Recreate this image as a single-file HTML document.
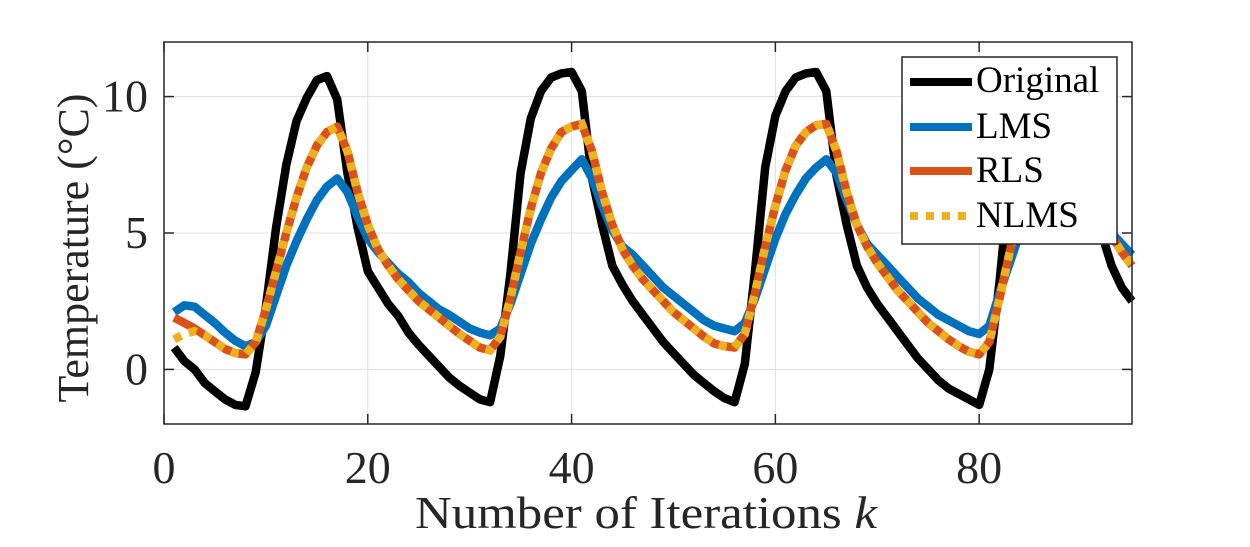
<!DOCTYPE html>
<html><head><meta charset="utf-8"><style>
html,body{margin:0;padding:0;background:#fff;}
svg{display:block;}
svg text{font-family:"Liberation Serif","DejaVu Serif","Times New Roman",serif;}
</style></head><body>
<svg id="chart" width="1250" height="547" viewBox="0 0 1250 547">
<rect x="0" y="0" width="1250" height="547" fill="#fff"/>
<g id="grid"></g>
<g id="series"></g>
<rect x="164" y="42" width="968" height="382" fill="none" stroke="#262626" stroke-width="1.5"/>
<g id="ticks"></g>
<text x="415" y="528" font-size="46" fill="#262626" textLength="462" lengthAdjust="spacingAndGlyphs">Number of Iterations <tspan font-style="italic">k</tspan></text>
<text transform="translate(88,248) rotate(-90)" font-size="44" text-anchor="middle" fill="#262626">Temperature (°C)</text>
<g>
<rect x="902" y="57" width="215" height="187" fill="#fff" stroke="#262626" stroke-width="1.5"/>
<g><line x1="910" y1="82" x2="972" y2="82" stroke="#000" stroke-width="8"/><text x="976" y="92" font-size="37" fill="#000">Original</text></g>
<g><line x1="910" y1="127" x2="972" y2="127" stroke="#0072bd" stroke-width="8"/><text x="976" y="138" font-size="37" fill="#000">LMS</text></g>
<g><line x1="910" y1="171" x2="972" y2="171" stroke="#d95319" stroke-width="8"/><text x="976" y="182" font-size="37" fill="#000">RLS</text></g>
<g><line x1="910" y1="216" x2="972" y2="216" stroke="#edb120" stroke-width="8" stroke-dasharray="8,8"/><text x="976" y="227" font-size="37" fill="#000">NLMS</text></g>
</g>
</svg>
<script>
const xTicks = [0, 20, 40, 60, 80];
const yTicks = [0, 5, 10];
const original = [0.8,0.3,0.0,-0.5,-0.8,-1.1,-1.3,-1.35,
-0.1,2.3,5.2,7.5,9.1,9.95,10.6,10.75,9.9,
7.2,5.2,3.6,3.0,2.4,1.95,1.35,0.9,0.5,0.1,-0.3,-0.6,-0.85,-1.1,-1.2,
0.5,3.5,7.2,9.2,10.2,10.7,10.85,10.9,10.2,
7.0,5.3,3.8,3.1,2.5,2.0,1.5,1.0,0.6,0.2,-0.2,-0.5,-0.8,-1.05,-1.2,
0.2,3.6,7.4,9.3,10.2,10.7,10.85,10.9,10.2,
7.1,5.3,3.8,3.0,2.4,1.9,1.4,0.9,0.4,0.0,-0.4,-0.7,-0.9,-1.1,-1.3,
0.0,3.2,7.0,9.2,10.2,10.7,10.85,10.9,10.2,
7.8,6.2,5.0,3.8,3.0,2.5];
const lms = [2.1,2.35,2.3,2.0,1.7,1.35,1.05,0.85,
1.0,1.6,2.7,3.8,4.7,5.5,6.2,6.7,7.0,
6.5,5.6,4.8,4.3,3.9,3.5,3.2,2.8,2.5,2.2,2.0,1.75,1.5,1.35,1.25,
1.5,2.4,3.5,4.6,5.5,6.3,6.9,7.3,7.7,
7.0,6.0,5.1,4.5,4.2,3.8,3.4,3.0,2.7,2.4,2.1,1.8,1.6,1.5,1.4,
1.7,2.6,3.7,4.8,5.7,6.4,7.0,7.4,7.7,
7.2,6.2,5.3,4.6,4.2,3.8,3.4,3.0,2.6,2.3,2.0,1.8,1.6,1.4,1.3,
1.6,2.8,3.9,5.0,5.9,6.6,7.1,7.4,7.7,
7.0,6.2,5.5,5.0,4.6,4.2];
const rls = [1.9,1.7,1.5,1.25,1.0,0.75,0.6,0.55,
1.0,2.2,3.6,5.0,6.3,7.4,8.2,8.7,8.9,
8.0,6.5,5.3,4.4,3.8,3.3,2.9,2.5,2.2,1.9,1.6,1.3,1.05,0.8,0.7,
1.2,2.6,4.3,5.9,7.2,8.1,8.7,8.9,9.0,
8.0,6.5,5.3,4.4,3.8,3.3,2.9,2.5,2.1,1.8,1.5,1.2,0.95,0.85,0.8,
1.3,2.8,4.5,6.0,7.3,8.2,8.7,8.95,9.0,
8.0,6.5,5.3,4.5,3.9,3.4,2.9,2.5,2.1,1.7,1.4,1.1,0.85,0.65,0.55,
1.0,2.6,4.3,5.9,7.2,8.1,8.7,8.9,9.0,
8.0,6.6,5.6,4.9,4.3,3.8];
const nlms = [1.1,1.3,1.4,1.25,1.0,0.75,0.6,0.55,
1.0,2.2,3.6,5.0,6.3,7.4,8.2,8.7,8.9,
8.0,6.5,5.3,4.4,3.8,3.3,2.9,2.5,2.2,1.9,1.6,1.3,1.05,0.8,0.7,
1.2,2.6,4.3,5.9,7.2,8.1,8.7,8.9,9.0,
8.0,6.5,5.3,4.4,3.8,3.3,2.9,2.5,2.1,1.8,1.5,1.2,0.95,0.85,0.8,
1.3,2.8,4.5,6.0,7.3,8.2,8.7,8.95,9.0,
8.0,6.5,5.3,4.5,3.9,3.4,2.9,2.5,2.1,1.7,1.4,1.1,0.85,0.65,0.55,
1.0,2.6,4.3,5.9,7.2,8.1,8.7,8.9,9.0,
8.0,6.6,5.6,4.9,4.3,3.8];

const X0=164, X1=1132, Y0=424, Y1=42;
const xMin=0, xMax=95, yMin=-2, yMax=12;
function sx(v){return X0+(v-xMin)/(xMax-xMin)*(X1-X0);}
function sy(v){return Y0-(v-yMin)/(yMax-yMin)*(Y0-Y1);}
const NS="http://www.w3.org/2000/svg";
const grid=document.getElementById('grid'), ticks=document.getElementById('ticks'), series=document.getElementById('series');
function mk(tag,attrs,parent){const e=document.createElementNS(NS,tag);for(const k in attrs)e.setAttribute(k,attrs[k]);parent.appendChild(e);return e;}
xTicks.forEach(t=>{
  const g=mk('line',{x1:sx(t),x2:sx(t),y1:Y1,y2:Y0,stroke:'#dfdfdf','stroke-width':1},grid);
  
  
  const a=mk('line',{x1:sx(t),x2:sx(t),y1:Y0,y2:Y0-10,stroke:'#262626','stroke-width':1.5},ticks);
  
  
  const b=mk('line',{x1:sx(t),x2:sx(t),y1:Y1,y2:Y1+10,stroke:'#262626','stroke-width':1.5},ticks);
  
  
  const l=mk('text',{x:sx(t),y:483,'font-size':46,'text-anchor':'middle',fill:'#262626'},ticks);
  l.textContent=t;
  
  
});
yTicks.forEach(t=>{
  const g=mk('line',{x1:X0,x2:X1,y1:sy(t),y2:sy(t),stroke:'#dfdfdf','stroke-width':1},grid);
  
  
  const a=mk('line',{x1:X0,x2:X0+10,y1:sy(t),y2:sy(t),stroke:'#262626','stroke-width':1.5},ticks);
  
  
  const b=mk('line',{x1:X1,x2:X1-10,y1:sy(t),y2:sy(t),stroke:'#262626','stroke-width':1.5},ticks);
  
  
  const l=mk('text',{x:148,y:sy(t)+15,'font-size':46,'text-anchor':'end',fill:'#262626'},ticks);
  l.textContent=t;
  
  
});
function pts(arr){return arr.map((v,i)=>sx(i+1).toFixed(1)+','+sy(v).toFixed(1)).join(' ');}
const p1=mk('polyline',{points:pts(original),fill:'none',stroke:'#000','stroke-width':8.5,'stroke-linejoin':'round'},series);


const p2=mk('polyline',{points:pts(lms),fill:'none',stroke:'#0072bd','stroke-width':8.5,'stroke-linejoin':'round'},series);


const p3=mk('polyline',{points:pts(rls),fill:'none',stroke:'#d95319','stroke-width':8.5,'stroke-linejoin':'round'},series);


const p4=mk('polyline',{points:pts(nlms),fill:'none',stroke:'#edb120','stroke-width':8.5,'stroke-dasharray':'8,8'},series);


</script>
</body></html>
